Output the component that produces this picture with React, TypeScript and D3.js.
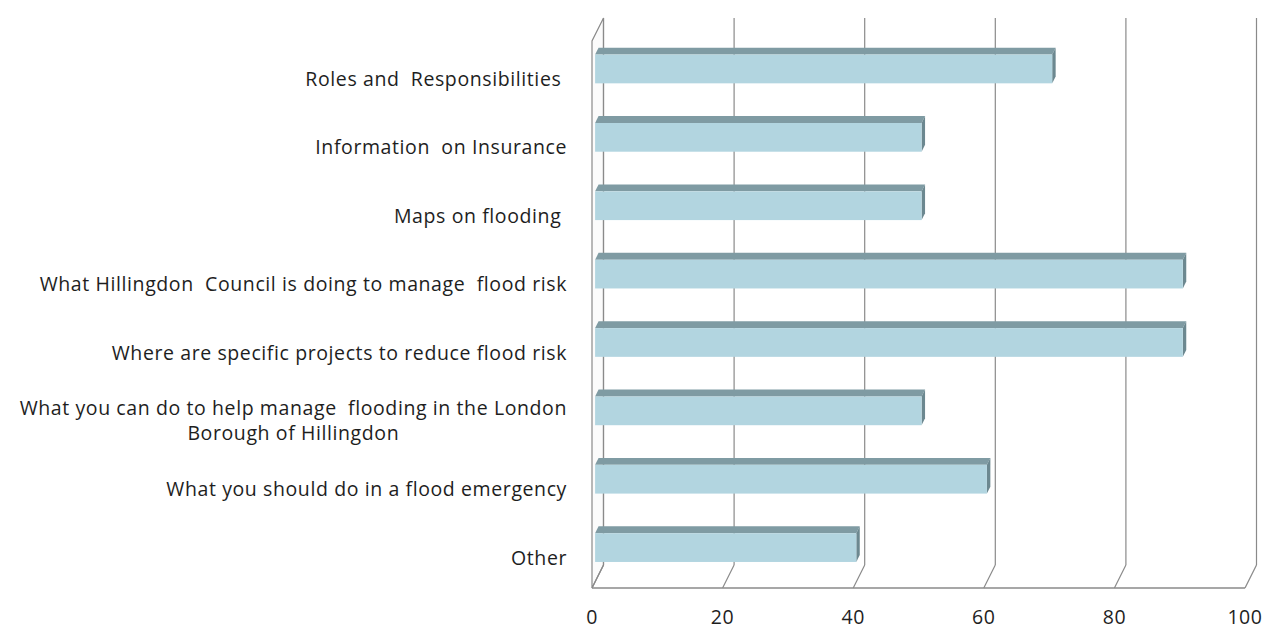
import React, { useEffect, useRef } from "react";
import * as d3 from "d3";

const categories: string[] = [
  "Roles and  Responsibilities ",
  "Information  on Insurance",
  "Maps on flooding ",
  "What Hillingdon  Council is doing to manage  flood risk",
  "Where are specific projects to reduce flood risk",
  "What you can do to help manage  flooding in the London|Borough of Hillingdon",
  "What you should do in a flood emergency",
  "Other",
];
const values: number[] = [70, 50, 50, 90, 90, 50, 60, 40];
const ticks: number[] = [0, 20, 40, 60, 80, 100];

const W = 1273;
const H = 630;

export default function App() {
  const ref = useRef<SVGSVGElement | null>(null);

  useEffect(() => {
    const svg = d3.select(ref.current);
    svg.selectAll("*").remove();

    const x = d3.scaleLinear().domain([0, 100]).range([592, 1245]);
    const y = d3.scaleBand<string>().domain(categories).range([41, 588]).paddingInner(0).paddingOuter(0);
    const D = { x: 11.5, y: -23 };
    const f0 = 0.27;
    const f1 = 0.57;
    const barFrac = 0.42;
    const grid = "#8a8a8a";
    const font = "'Open Sans', sans-serif";
    const fs = 19.5;
    const ls = 0.6;

    const g = svg.append("g");
    const top = 41;
    const bottom = 588;

    // left side wall
    g.append("path")
      .attr("d", `M${x(0)},${bottom} L${x(0)},${top} L${x(0) + D.x},${top + D.y} L${x(0) + D.x},${bottom + D.y} Z`)
      .attr("fill", "#fbfbfb")
      .attr("stroke", grid)
      .attr("stroke-width", 1.2);

    // gridlines on back wall + floor diagonals
    ticks.forEach((t) => {
      const xf = x(t);
      const xb = xf + D.x;
      g.append("line")
        .attr("x1", xb).attr("x2", xb)
        .attr("y1", top + D.y).attr("y2", bottom + D.y)
        .attr("stroke", grid).attr("stroke-width", 1.2);
      g.append("line")
        .attr("x1", xf).attr("x2", xb)
        .attr("y1", bottom).attr("y2", bottom + D.y)
        .attr("stroke", grid).attr("stroke-width", 1.2);
    });
    g.append("line")
      .attr("x1", x(0)).attr("x2", x(100))
      .attr("y1", bottom).attr("y2", bottom)
      .attr("stroke", grid).attr("stroke-width", 1.4);

    // bars
    categories.forEach((c, i) => {
      const v = values[i];
      const bw = y.bandwidth();
      const h = bw * barFrac;
      const cy = (y(c) as number) + bw / 2;
      const ox = f0 * D.x;
      const oy = f0 * D.y;
      const dx = (f1 - f0) * D.x;
      const dy = (f1 - f0) * D.y;
      const x0 = x(0) + ox;
      const x1 = x(v) + ox;
      const y0 = cy - h / 2 + oy;
      const y1 = cy + h / 2 + oy;
      g.append("path")
        .attr("d", `M${x0},${y0} L${x0 + dx},${y0 + dy} L${x1 + dx},${y0 + dy} L${x1},${y0} Z`)
        .attr("fill", "#7f9ba3");
      g.append("path")
        .attr("d", `M${x1},${y0} L${x1 + dx},${y0 + dy} L${x1 + dx},${y1 + dy} L${x1},${y1} Z`)
        .attr("fill", "#6c8890");
      g.append("rect")
        .attr("x", x0).attr("y", y0)
        .attr("width", x1 - x0).attr("height", y1 - y0)
        .attr("fill", "#b2d5e0");
    });

    // category labels
    categories.forEach((c) => {
      const lines = c.split("|");
      const bw = y.bandwidth();
      const cy = (y(c) as number) + bw / 2 + 4;
      const lh = 25;
      const startY = cy - ((lines.length - 1) * lh) / 2;
      const texts = lines.map((ln, k) =>
        g.append("text")
          .attr("x", 567)
          .attr("y", startY + k * lh)
          .attr("dy", "0.35em")
          .attr("text-anchor", "end")
          .attr("font-family", font)
          .attr("font-size", fs)
          .attr("letter-spacing", ls)
          .attr("fill", "#1e1e1e")
          .style("white-space", "pre")
          .text(ln)
      );
      if (lines.length > 1) {
        const widths = texts.map((t) => (t.node() as SVGTextElement).getComputedTextLength());
        const maxW = Math.max(...widths);
        const center = 567 - maxW / 2;
        texts.forEach((t) => t.attr("x", center).attr("text-anchor", "middle"));
      }
    });

    // x tick labels
    ticks.forEach((t) => {
      g.append("text")
        .attr("x", x(t))
        .attr("y", 617)
        .attr("dy", "0.35em")
        .attr("text-anchor", "middle")
        .attr("font-family", font)
        .attr("font-size", fs)
        .attr("letter-spacing", ls)
        .attr("fill", "#1e1e1e")
        .text(String(t));
    });
  }, []);

  return (
    <svg
      ref={ref}
      width={W}
      height={H}
      style={{ position: "absolute", left: 0, top: 0, background: "#ffffff" }}
    />
  );
}
